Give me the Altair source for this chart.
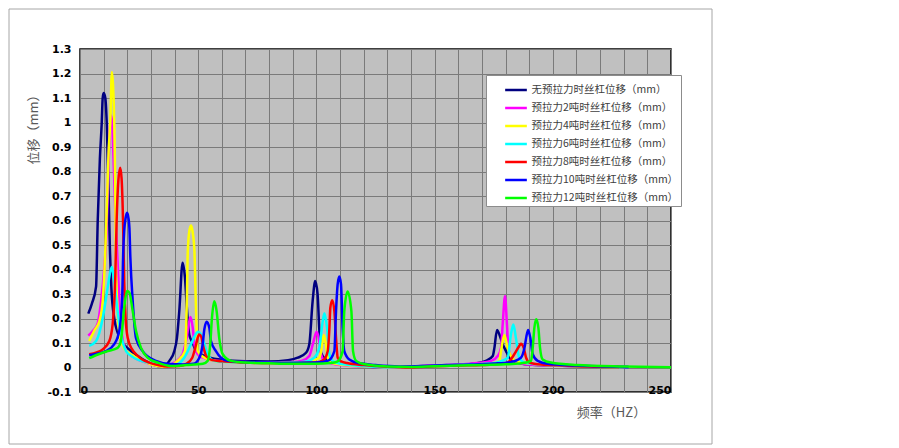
import altair as alt
import pandas as pd

SERIES = [
    "无预拉力时丝杠位移（mm）",
    "预拉力2吨时丝杠位移（mm）",
    "预拉力4吨时丝杠位移（mm）",
    "预拉力6吨时丝杠位移（mm）",
    "预拉力8吨时丝杠位移（mm）",
    "预拉力10吨时丝杠位移（mm）",
    "预拉力12吨时丝杠位移（mm）",
]
COLORS = ["#000080", "#FF00FF", "#FFFF00", "#00FFFF", "#FF0000", "#0000FF", "#00FF00"]

f0 = [3.5,5,6.8,7.5,8.4,9.2,9.6,10.0,10.7,11.3,12.0,12.6,13.3,14.5,16,18,20,24,28,32,
      35,37.8,39.9,41,42,43.4,44.4,45.3,46.2,47.7,49.1,51.2,55,60,70,80,88,92.1,95.6,97,
      98.4,99.5,100.5,101.2,102,104,107,112,118,125,132,140,150,160,166.8,171.7,174.6,175.3,176.4,177.4,
      178.8,180.2,182.3,185.1,190,200,215,232]
v0 = [0.22,0.26,0.33,0.6,0.85,1.0,1.1,1.12,1.1,1.0,0.75,0.5,0.32,0.2,0.14,0.1,0.08,0.05,0.025,0.008,
      0.003,0.027,0.067,0.12,0.23,0.428,0.367,0.23,0.135,0.1,0.067,0.054,0.04,0.032,0.026,0.025,0.03,0.04,0.06,0.095,
      0.27,0.353,0.3,0.16,0.06,0.033,0.02,0.012,0.006,0.002,0.0,0.004,0.008,0.01,0.016,0.027,0.047,0.08,0.153,0.135,
      0.095,0.067,0.033,0.02,0.012,0.008,0.004,0.002]

f2 = [3.5,5.5,7.5,8.9,10.3,11.2,12.0,12.6,13.1,13.6,14.2,15.0,15.9,16.8,17.8,19,21,24,28,32,
      36,39.9,43.4,45.1,46.7,47.7,48.4,49.8,52,56,62,70,80,90,94,97,98.5,100.1,101.2,102,
      103.4,106,110,120,130,140,150,160,168,173.9,176.7,178.1,178.8,179.8,180.6,181.2,182.3,185.1,190,200,
      215,232]
v2 = [0.13,0.15,0.18,0.27,0.41,0.55,0.8,0.97,1.03,1.0,0.85,0.62,0.43,0.25,0.13,0.08,0.055,0.035,0.02,0.008,
      0.004,0.02,0.054,0.12,0.206,0.162,0.095,0.054,0.04,0.03,0.025,0.022,0.02,0.022,0.028,0.047,0.095,0.146,0.108,0.054,
      0.027,0.018,0.01,0.004,0.0,0.004,0.008,0.012,0.018,0.027,0.047,0.08,0.176,0.292,0.176,0.08,0.047,0.02,0.012,0.008,
      0.004,0.002]

f4 = [3.9,6,8.2,9.6,10.7,11.5,12.1,12.8,13.5,14.0,14.5,14.9,15.2,15.8,16.8,18,20,23,27,31,
      35,38,41.3,44.4,45.1,45.6,46.3,47.0,47.7,48.4,49.1,49.8,52.6,56.8,62,70,80,90,96,99,
      101.2,102,103.1,104,104.8,106.2,110,120,130,140,150,160,170,175,177.4,178.1,179.5,180.9,182.3,184.4,
      187.3,195,205,215,230]
v4 = [0.108,0.15,0.19,0.27,0.475,0.7,0.88,1.0,1.206,1.15,1.0,0.75,0.43,0.25,0.13,0.09,0.065,0.045,0.025,0.01,
      0.003,0.008,0.027,0.067,0.23,0.475,0.56,0.58,0.55,0.475,0.23,0.067,0.04,0.027,0.022,0.02,0.018,0.018,0.02,0.03,
      0.04,0.067,0.133,0.095,0.04,0.02,0.012,0.005,0.001,0.003,0.006,0.01,0.014,0.018,0.027,0.067,0.133,0.08,0.047,0.027,
      0.02,0.012,0.008,0.004,0.002]

f6 = [3.9,6.8,9.6,11.7,12.8,13.5,14.5,15.9,17.3,19.5,22,25,30,36,40,44.1,47,49.1,49.8,51.2,
      52.6,54,56.8,62,70,80,90,96,99.1,101.2,102.7,103.4,104.5,105.5,106.9,110,120,130,140,150,
      160,170,176,180.9,182.3,183.3,184.4,185.8,188,195,205,215,232]
v6 = [0.088,0.108,0.2,0.326,0.39,0.41,0.353,0.23,0.137,0.067,0.045,0.03,0.018,0.008,0.01,0.04,0.096,0.138,0.146,0.135,
      0.095,0.054,0.027,0.022,0.02,0.019,0.02,0.025,0.04,0.08,0.19,0.221,0.162,0.054,0.027,0.015,0.006,0.001,0.002,0.006,
      0.01,0.014,0.02,0.04,0.135,0.176,0.12,0.04,0.02,0.012,0.008,0.004,0.002]

f8 = [3.9,7,9.6,12.4,13.8,14.9,15.5,16.2,17.0,17.6,18.2,18.7,19.3,20.2,22,23.7,26,29.3,33,37,
      42,45,47.5,49,50,50.5,51.3,52.3,53.5,56,60,70,80,90,100,103,104.8,105.5,105.9,106.7,
      107.6,108.3,109,110.5,113,120,130,140,150,160,170,178,180.9,183.7,185.8,186.5,187.7,188.7,190.1,195,
      205,215,228]
v8 = [0.054,0.062,0.074,0.108,0.176,0.36,0.6,0.76,0.815,0.77,0.6,0.35,0.2,0.12,0.075,0.054,0.035,0.02,0.01,0.004,
      0.006,0.015,0.04,0.09,0.128,0.135,0.125,0.08,0.045,0.03,0.025,0.02,0.018,0.018,0.02,0.03,0.067,0.16,0.244,0.275,
      0.23,0.12,0.04,0.025,0.018,0.01,0.003,0.0,0.005,0.008,0.01,0.015,0.02,0.054,0.088,0.097,0.08,0.04,0.02,0.012,
      0.008,0.004,0.002]

f10 = [3.9,8,11,14.5,16.6,17.8,18.3,18.7,19.3,19.9,20.5,20.9,21.3,22.3,23.7,26.5,32.1,38,44,48,
       50.5,51.9,52.6,53.6,54.7,55.4,57.5,59.6,62.5,70,80,90,100,105,107.6,108.3,109,109.7,110.4,111.1,
       111.8,113.9,118,125,135,145,155,165,175,182,186.5,188,189,189.6,190.5,191.5,193.6,198,210,222,
       232]
v10 = [0.05,0.058,0.067,0.095,0.149,0.27,0.475,0.557,0.61,0.632,0.61,0.57,0.45,0.27,0.12,0.067,0.027,0.014,0.012,0.015,
       0.04,0.095,0.156,0.187,0.162,0.108,0.067,0.04,0.027,0.022,0.02,0.018,0.02,0.028,0.067,0.23,0.34,0.371,0.34,0.16,
       0.067,0.033,0.018,0.01,0.004,0.006,0.01,0.012,0.016,0.022,0.04,0.08,0.135,0.153,0.12,0.054,0.027,0.015,0.008,0.004,
       0.002]

f12 = [3.9,6,11.7,15.9,17.3,18.7,19.9,20.9,22.3,23.7,25.8,28.6,32.9,38.5,45,52,54,55.1,55.8,56.8,
       57.8,58.9,60.4,63.9,70,80,90,100,106,109,111.1,111.8,113.2,114.8,115.5,116.8,120,130,140,150,
       160,170,180,186,190.8,191.5,192.2,193,193.9,194.6,195.7,199.2,210,230,250]
v12 = [0.038,0.047,0.067,0.08,0.108,0.244,0.312,0.305,0.23,0.149,0.08,0.04,0.02,0.006,0.01,0.015,0.027,0.095,0.2,0.27,
       0.23,0.12,0.054,0.027,0.02,0.017,0.015,0.015,0.018,0.025,0.067,0.23,0.31,0.23,0.067,0.027,0.014,0.004,0.002,0.005,
       0.008,0.01,0.013,0.016,0.027,0.08,0.162,0.197,0.162,0.08,0.033,0.02,0.01,0.004,0.001]

X_TICKS = list(range(0, 251, 10))
Y_TICKS = [-0.1, 0, 0.1, 0.2, 0.3, 0.4, 0.5, 0.6, 0.7, 0.8, 0.9, 1.0, 1.1, 1.2, 1.3]

rows = []
for name, fs, vs in zip(SERIES, [f0, f2, f4, f6, f8, f10, f12], [v0, v2, v4, v6, v8, v10, v12]):
    assert len(fs) == len(vs), name
    for i, (f, v) in enumerate(zip(fs, vs)):
        rows.append({"series": name, "order": i, "freq": f, "disp": v})
df = pd.DataFrame(rows)

CJK = "Noto Sans CJK SC"
NUM = "DejaVu Sans"

lines = alt.Chart(df).mark_line(strokeWidth=2.5, interpolate="monotone").encode(
    x=alt.X("freq:Q",
            scale=alt.Scale(domain=[0, 250], nice=False, zero=False),
            axis=alt.Axis(values=X_TICKS, grid=True, gridColor="#7a7a7a", gridWidth=1,
                          domain=False, ticks=False, tickSize=0,
                          labelExpr="datum.value % 50 === 0 ? datum.label : ''",
                          labelFont=NUM, labelFontWeight="bold", labelFontSize=11, labelColor="#000000",
                          labelBaseline="alphabetic", labelPadding=1, labelOverlap=False,
                          title="频率（HZ）", titleFont=CJK, titleFontSize=13, titleFontWeight="normal",
                          titleColor="#595959", titleX=531, titleY=20, titleAlign="center",
                          titleBaseline="middle", titleAnchor="start")),
    y=alt.Y("disp:Q",
            scale=alt.Scale(domain=[-0.1, 1.3], nice=False, zero=False),
            axis=alt.Axis(values=Y_TICKS, grid=True, gridColor="#7a7a7a", gridWidth=1,
                          domain=False, ticks=False, tickSize=0,
                          labelExpr="datum.value < 0 ? '-' + format(-datum.value, '.1~f') : format(datum.value, '.1~f')",
                          labelFont=NUM, labelFontWeight="bold", labelFontSize=11, labelColor="#000000",
                          labelPadding=9,
                          title="位移（mm）", titleFont=CJK, titleFontSize=13, titleFontWeight="normal",
                          titleColor="#595959", titleX=-47, titleY=77, titleAngle=270,
                          titleAlign="center", titleBaseline="middle", titleAnchor="start")),
    color=alt.Color("series:N",
                    scale=alt.Scale(domain=SERIES, range=COLORS),
                    legend=alt.Legend(title=None, orient="none", legendX=406, legendY=26,
                                      symbolType="stroke", symbolStrokeWidth=2.5, symbolSize=470,
                                      symbolOffset=15,
                                      labelFont=CJK, labelFontSize=10.5, labelColor="#404040",
                                      labelExpr="datum.label + '\u3000\u3000'",
                                      labelOffset=3, rowPadding=0, padding=2.5,
                                      fillColor="#ffffff", strokeColor="#8c8c8c")),
    order=alt.Order("order:Q"),
)

frame = alt.Chart(alt.Data(values=[{}])).mark_rect(filled=False, stroke="#a6a6a6", strokeWidth=1).encode(
    x=alt.value(-71), x2=alt.value(632), y=alt.value(-40), y2=alt.value(395)
)

chart = alt.layer(frame, lines).properties(
    width=591, height=343, padding=0, background="#ffffff"
).configure_view(
    fill="#c0c0c0", stroke="#000000", strokeWidth=1.5
)

chart.save("out.html", embed_options={"renderer": "svg", "actions": False})
